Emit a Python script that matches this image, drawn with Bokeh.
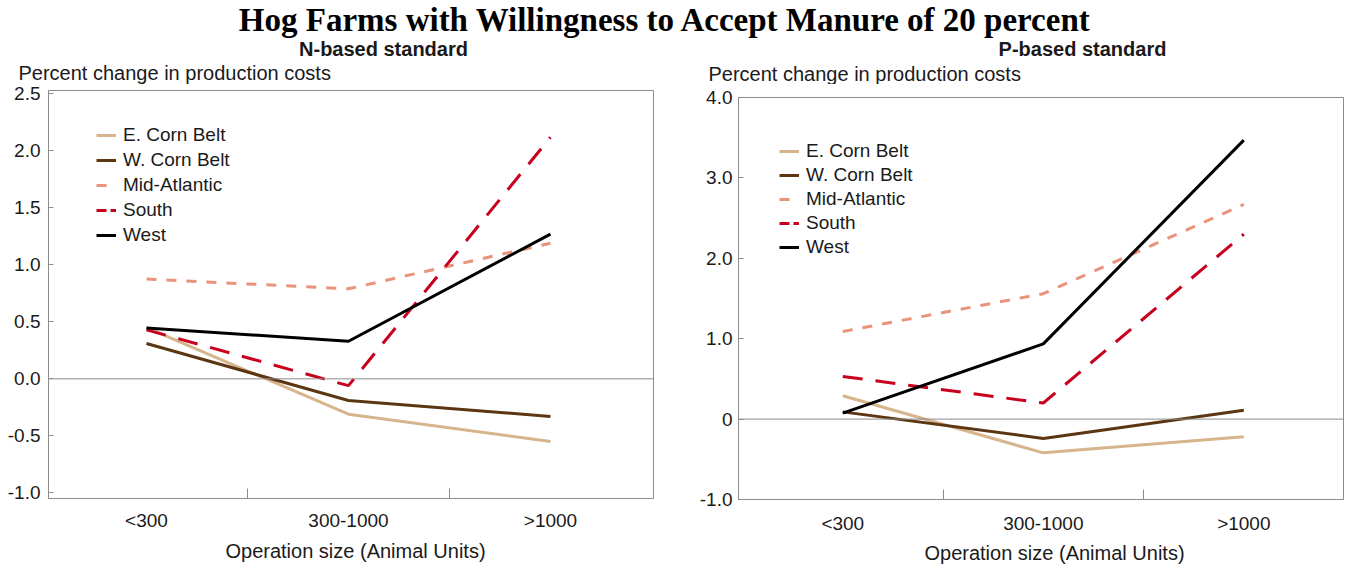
from bokeh.plotting import figure
from bokeh.models import Range1d, FixedTicker, Span, Label, Legend, LegendItem
from bokeh.layouts import column, row
from bokeh.embed import file_html
from bokeh.resources import INLINE

# ---------------- data ----------------
main_title = "Hog Farms with Willingness to Accept Manure of 20 percent"
subtitles = ["N-based standard", "P-based standard"]
categories = ["<300", "300-1000", ">1000"]
series_names = ["E. Corn Belt", "W. Corn Belt", "Mid-Atlantic", "South", "West"]

# N-based standard (percent change in production costs)
n_ecb = [0.45, -0.31, -0.55]
n_wcb = [0.31, -0.19, -0.33]
n_mid = [0.875, 0.79, 1.19]
n_south = [0.43, -0.06, 2.12]
n_west = [0.445, 0.33, 1.27]

# P-based standard
p_ecb = [0.29, -0.42, -0.22]
p_wcb = [0.09, -0.24, 0.11]
p_mid = [1.09, 1.56, 2.67]
p_south = [0.53, 0.20, 2.30]
p_west = [0.075, 0.935, 3.47]

n_yticks = [-1.0, -0.5, 0.0, 0.5, 1.0, 1.5, 2.0, 2.5]
n_ylabels = ["-1.0", "-0.5", "0.0", "0.5", "1.0", "1.5", "2.0", "2.5"]
p_yticks = [-1.0, 0.0, 1.0, 2.0, 3.0, 4.0]
p_ylabels = ["-1.0", "0", "1.0", "2.0", "3.0", "4.0"]

y_title = "Percent change in production costs"
x_title = "Operation size (Animal Units)"

# ---------------- styles ----------------
FONT = "Liberation Sans"
GRAY = "#8c8c8c"
TEXT = "#1a1a1a"
NAN = float("nan")
styles = {
    "E. Corn Belt": dict(color="#d6b48c", dash="solid", legend_dash="solid"),
    "W. Corn Belt": dict(color="#5c3612", dash="solid", legend_dash="solid"),
    "Mid-Atlantic": dict(color="#e8937a", dash="10 10", legend_dash="10 10"),
    "South": dict(color="#c8001e", dash="20 13", legend_dash="10 4"),
    "West": dict(color="#000000", dash="solid", legend_dash="solid"),
}

positions = [i + 0.5 for i in range(len(categories))]
boundaries = [float(i) for i in range(1, len(categories))]

W_TOTAL = 1346
HEAD_H = 84
PANEL_H = 452
FOOT_H = 30


def make_panel(series, y_range, yticks, ylabels, x_range, width, mb,
               ytick_standoff, xtick_standoff, legend_loc, legend_spacing):
    p = figure(width=width, height=PANEL_H,
               x_range=Range1d(*x_range), y_range=Range1d(*y_range),
               output_backend="svg", toolbar_location=None,
               min_border_left=mb[0], min_border_right=mb[1],
               min_border_top=mb[2], min_border_bottom=mb[3])
    p.xgrid.visible = False
    p.ygrid.visible = False
    p.outline_line_color = GRAY
    p.outline_line_width = 1
    p.background_fill_color = "white"
    p.border_fill_color = "white"

    xa = p.xaxis[0]
    xa.ticker = FixedTicker(ticks=positions, minor_ticks=boundaries)
    xa.major_label_overrides = {pos: cat for pos, cat in zip(positions, categories)}
    xa.major_tick_in = 0
    xa.major_tick_out = 0
    xa.minor_tick_in = 10
    xa.minor_tick_out = 0
    xa.minor_tick_line_color = GRAY
    xa.axis_line_color = GRAY
    xa.major_label_text_font = FONT
    xa.major_label_text_font_size = "19px"
    xa.major_label_text_color = TEXT
    xa.major_label_standoff = xtick_standoff

    ya = p.yaxis[0]
    ya.ticker = FixedTicker(ticks=yticks)
    ya.major_label_overrides = {t: l for t, l in zip(yticks, ylabels)}
    ya.major_tick_in = 5
    ya.major_tick_out = 0
    ya.minor_tick_line_color = None
    ya.major_tick_line_color = GRAY
    ya.axis_line_color = GRAY
    ya.major_label_text_font = FONT
    ya.major_label_text_font_size = "19px"
    ya.major_label_text_color = TEXT
    ya.major_label_standoff = ytick_standoff

    p.add_layout(Span(location=0, dimension="width", line_color=GRAY, line_width=1))

    items = []
    for name, vals in zip(series_names, series):
        st = styles[name]
        p.line(positions, vals, line_color=st["color"], line_width=3,
               line_dash=st["dash"])
        proxy = p.line(x=[NAN], y=[NAN], line_color=st["color"], line_width=3,
                       line_dash=st["legend_dash"])
        items.append(LegendItem(label=name, renderers=[proxy]))

    legend = Legend(items=items, location=legend_loc, border_line_color=None,
                    background_fill_alpha=0, padding=0, margin=0,
                    spacing=legend_spacing, glyph_width=20, glyph_height=20,
                    label_height=20, label_standoff=7,
                    label_text_font=FONT, label_text_font_size="19px",
                    label_text_color=TEXT)
    p.add_layout(legend)
    return p


left = make_panel([n_ecb, n_wcb, n_mid, n_south, n_west], (-1.05, 2.53),
                  n_yticks, n_ylabels, (0.015, 3.01), 690,
                  (48, 37, 6, 38), 8, 11, (48, 252), 3)
right = make_panel([p_ecb, p_wcb, p_mid, p_south, p_west], (-1.0, 4.0),
                   p_yticks, p_ylabels, (-0.02, 2.997), 656,
                   (48, 3, 13, 37), 6, 13, (41, 241), 2)


def strip(height):
    f = figure(width=W_TOTAL, height=height, x_range=Range1d(0, W_TOTAL),
               y_range=Range1d(0, height), output_backend="svg",
               toolbar_location=None, x_axis_location=None, y_axis_location=None,
               min_border=0)
    f.xgrid.visible = False
    f.ygrid.visible = False
    f.outline_line_color = None
    f.background_fill_color = "white"
    f.border_fill_color = "white"
    return f


# header: main title, panel subtitles and horizontal y-axis titles
head = strip(HEAD_H)
head.add_layout(Label(x=665, y=HEAD_H - 1, text=main_title, text_font="Liberation Serif",
                      text_font_size="33px", text_font_style="bold", text_color="#000000",
                      text_align="center", text_baseline="top"))
for sub, sx in zip(subtitles, [383, 1082]):
    head.add_layout(Label(x=sx, y=HEAD_H - 48, text=sub, text_font=FONT,
                          text_font_size="20px", text_font_style="bold", text_color=TEXT,
                          text_align="center", text_baseline="middle"))
for sx, sy in zip([18, 708], [72, 73]):
    head.add_layout(Label(x=sx, y=HEAD_H - sy, text=y_title, text_font=FONT,
                          text_font_size="20px", text_color=TEXT,
                          text_align="left", text_baseline="middle"))

# footer: x-axis titles
foot = strip(FOOT_H)
foot_top = HEAD_H + PANEL_H
for sx, sy in zip([355, 1054], [550, 552]):
    foot.add_layout(Label(x=sx, y=FOOT_H - (sy - foot_top), text=x_title, text_font=FONT,
                          text_font_size="20px", text_color=TEXT,
                          text_align="center", text_baseline="middle"))

layout = column(head, row(column(left), column(right)), foot)
open("out.html", "w").write(file_html(layout, INLINE))
